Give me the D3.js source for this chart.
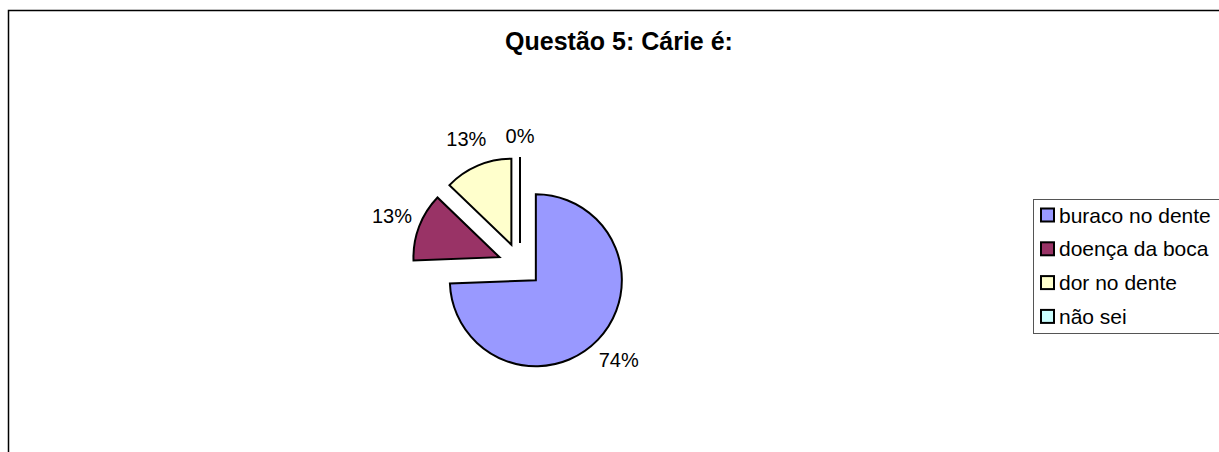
<!DOCTYPE html>
<html>
<head>
<meta charset="utf-8">
<script src="https://cdn.jsdelivr.net/npm/d3@7"></script>
<style>
  body { margin: 0; background: #fff; }
  text { font-family: "Liberation Sans", Arial, sans-serif; }
</style>
</head>
<body>
<svg id="chart"></svg>
<script>
// answers to "Cárie é:" (share in %)
var categories = ["buraco no dente", "doença da boca", "dor no dente", "não sei"];
var shares = [74.4, 12.8, 12.8, 0];
var colors = ["#9999FF", "#993366", "#FFFFCC", "#CCFFFF"];
var title = "Questão 5: Cárie é:";

var width = 1219,
    height = 452;

var cx = 520, cy = 265,   // pie centre
    radius = 86,
    explode = 22,         // every slice is pulled out
    labelR = 115;

var svg = d3.select("#chart")
    .attr("width", width)
    .attr("height", height);

// chart frame (runs off the right / bottom of the picture)
svg.append("rect")
    .attr("x", 8.5).attr("y", 10.5)
    .attr("width", width + 20).attr("height", height + 20)
    .attr("fill", "none")
    .attr("stroke", "#000")
    .attr("stroke-width", 1.5);

svg.append("text")
    .attr("x", 619).attr("y", 50)
    .attr("text-anchor", "middle")
    .attr("font-size", 25)
    .attr("font-weight", "bold")
    .text(title);

var total = d3.sum(shares);
var pct = d3.format(".0%");

var pie = d3.pie().sort(null).value(function(d) { return d; });
var arc = d3.arc().innerRadius(0).outerRadius(radius);
var arcs = pie(shares);

function mid(d) { return (d.startAngle + d.endAngle) / 2; }

var g = svg.append("g").attr("transform", "translate(" + cx + "," + cy + ")");

var slice = g.selectAll(".slice")
    .data(arcs)
  .enter().append("g")
    .attr("class", "slice")
    .attr("transform", function(d) {
      var a = mid(d);
      return "translate(" + (Math.sin(a) * explode) + "," + (-Math.cos(a) * explode) + ")";
    });

slice.append("path")
    .attr("d", arc)
    .attr("fill", function(d, i) { return colors[i]; })
    .attr("stroke", "#000")
    .attr("stroke-width", 2)
    .attr("stroke-linejoin", "miter");

slice.append("text")
    .attr("x", function(d) { return Math.sin(mid(d)) * (d.value ? labelR : labelR - 8); })
    .attr("y", function(d) { return -Math.cos(mid(d)) * (d.value ? labelR : labelR - 8); })
    .attr("dy", "0.36em")
    .attr("text-anchor", "middle")
    .attr("font-size", 20)
    .text(function(d) { return pct(d.value / total); });

// legend
var legend = svg.append("g").attr("transform", "translate(1033,199)");

legend.append("rect")
    .attr("x", 0.5).attr("y", 0.5)
    .attr("width", 220).attr("height", 134)
    .attr("fill", "#fff")
    .attr("stroke", "#555")
    .attr("stroke-width", 1);

var item = legend.selectAll(".item")
    .data(categories)
  .enter().append("g")
    .attr("class", "item")
    .attr("transform", function(d, i) { return "translate(0," + (16 + i * 33.8) + ")"; });

item.append("rect")
    .attr("x", 8).attr("y", -6.5)
    .attr("width", 13).attr("height", 13)
    .attr("fill", function(d, i) { return colors[i]; })
    .attr("stroke", "#000")
    .attr("stroke-width", 2);

item.append("text")
    .attr("x", 26)
    .attr("dy", "0.36em")
    .attr("font-size", 21)
    .text(function(d) { return d; });
</script>
</body>
</html>
